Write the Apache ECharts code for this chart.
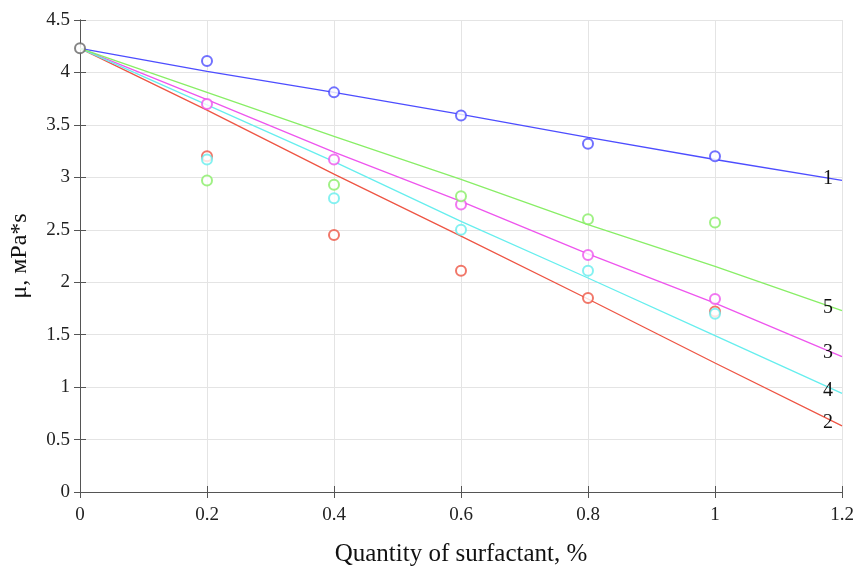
<!DOCTYPE html>
<html>
<head>
<meta charset="utf-8">
<script src="https://cdn.jsdelivr.net/npm/echarts@6/dist/echarts.min.js"></script>
<style>
  html, body { margin: 0; padding: 0; background: #fff; }
  #chart { width: 858px; height: 570px; }
</style>
</head>
<body>
<div id="chart"></div>
<script>
// x positions (% surfactant)
var xVals = [0, 0.2, 0.4, 0.6, 0.8, 1.0, 1.2]
var xPts = [0.2, 0.4, 0.6, 0.8, 1.0]
var startValue = 4.23

// measured points (without the common start point)
var pts1 = [4.11, 3.81, 3.59, 3.32, 3.20]
var pts2 = [3.20, 2.45, 2.11, 1.85, 1.72]
var pts3 = [3.70, 3.17, 2.74, 2.26, 1.84]
var pts4 = [3.17, 2.80, 2.50, 2.11, 1.70]
var pts5 = [2.97, 2.93, 2.82, 2.60, 2.57]

// fitted lines
var fit1 = [4.23, 4.01, 3.81, 3.60, 3.38, 3.17, 2.97]
var fit2 = [4.23, 3.64, 3.03, 2.44, 1.84, 1.23, 0.63]
var fit3 = [4.23, 3.74, 3.24, 2.77, 2.27, 1.80, 1.29]
var fit4 = [4.23, 3.69, 3.15, 2.58, 2.04, 1.49, 0.94]
var fit5 = [4.23, 3.81, 3.39, 2.98, 2.55, 2.15, 1.73]

// curve labels
var curveNames = ['1', '2', '3', '4', '5']
var labelX = 1.178
var labelY = [2.99, 0.66, 1.33, 0.97, 1.76]

var colors = ['#4d4dff', '#ee5544', '#ee55ee', '#66eeee', '#88ee66']
var allPts = [pts1, pts2, pts3, pts4, pts5]
var allFits = [fit1, fit2, fit3, fit4, fit5]

var serif = 'Liberation Serif'
var chart = echarts.init(document.getElementById('chart'))

var series = []
allFits.forEach(function (fit, i) {
  series.push({
    type: 'line',
    data: xVals.map(function (x, k) { return [x, fit[k]] }),
    showSymbol: false,
    lineStyle: { color: colors[i], width: 1.3 },
    silent: true,
    z: 2,
    markPoint: {
      symbol: 'circle',
      symbolSize: 1,
      itemStyle: { color: 'transparent' },
      label: {
        show: true,
        position: 'inside',
        formatter: curveNames[i],
        color: '#111',
        fontFamily: serif,
        fontSize: 20
      },
      data: [{ coord: [labelX, labelY[i]] }]
    }
  })
})
allPts.forEach(function (p, i) {
  series.push({
    type: 'scatter',
    data: xPts.map(function (x, k) { return [x, p[k]] }),
    symbol: 'emptyCircle',
    symbolSize: 10,
    itemStyle: { color: colors[i], borderColor: colors[i], borderWidth: 1 },
    z: 3
  })
})
series.push({
  type: 'scatter',
  data: [[0, startValue]],
  symbol: 'emptyCircle',
  symbolSize: 10,
  itemStyle: { color: '#666', borderColor: '#666', borderWidth: 1 },
  z: 4
})

var axisLineStyle = { lineStyle: { color: '#555', width: 1 } }
var gridLine = { show: true, lineStyle: { color: '#e4e4e4', width: 1 } }
var tickIn = { show: true, inside: true, length: 6, lineStyle: { color: '#555' } }

chart.setOption({
  animation: false,
  grid: { left: 80, right: 16, top: 20, bottom: 78, outerBoundsMode: 'none' },
  xAxis: [{
    type: 'value',
    min: 0, max: 1.2, interval: 0.2,
    name: 'Quantity of surfactant, %',
    nameLocation: 'middle',
    nameGap: 50,
    nameTextStyle: { fontFamily: serif, fontSize: 25, color: '#111' },
    axisLine: axisLineStyle,
    axisTick: tickIn,
    axisLabel: {
      fontFamily: serif, fontSize: 19, color: '#222', margin: 14,
      formatter: function (v) { return +v.toFixed(1) + '' }
    },
    splitLine: gridLine
  }, {
    type: 'value', position: 'top',
    min: 0, max: 1.2, interval: 0.2,
    axisLine: axisLineStyle,
    axisTick: tickIn,
    axisLabel: { show: false },
    splitLine: { show: false }
  }],
  yAxis: [{
    type: 'value',
    min: 0, max: 4.5, interval: 0.5,
    name: 'μ, мPa*s',
    nameLocation: 'middle',
    nameGap: 48,
    nameTextStyle: { fontFamily: serif, fontSize: 24, color: '#111' },
    axisLine: { show: true, lineStyle: { color: '#555', width: 1 } },
    axisTick: tickIn,
    axisLabel: { fontFamily: serif, fontSize: 19, color: '#222', margin: 10 },
    splitLine: gridLine
  }, {
    type: 'value', position: 'right',
    min: 0, max: 4.5, interval: 0.5,
    axisLine: { show: true, lineStyle: { color: '#555', width: 1 } },
    axisTick: tickIn,
    axisLabel: { show: false },
    splitLine: { show: false }
  }],
  series: series
})
</script>
</body>
</html>
